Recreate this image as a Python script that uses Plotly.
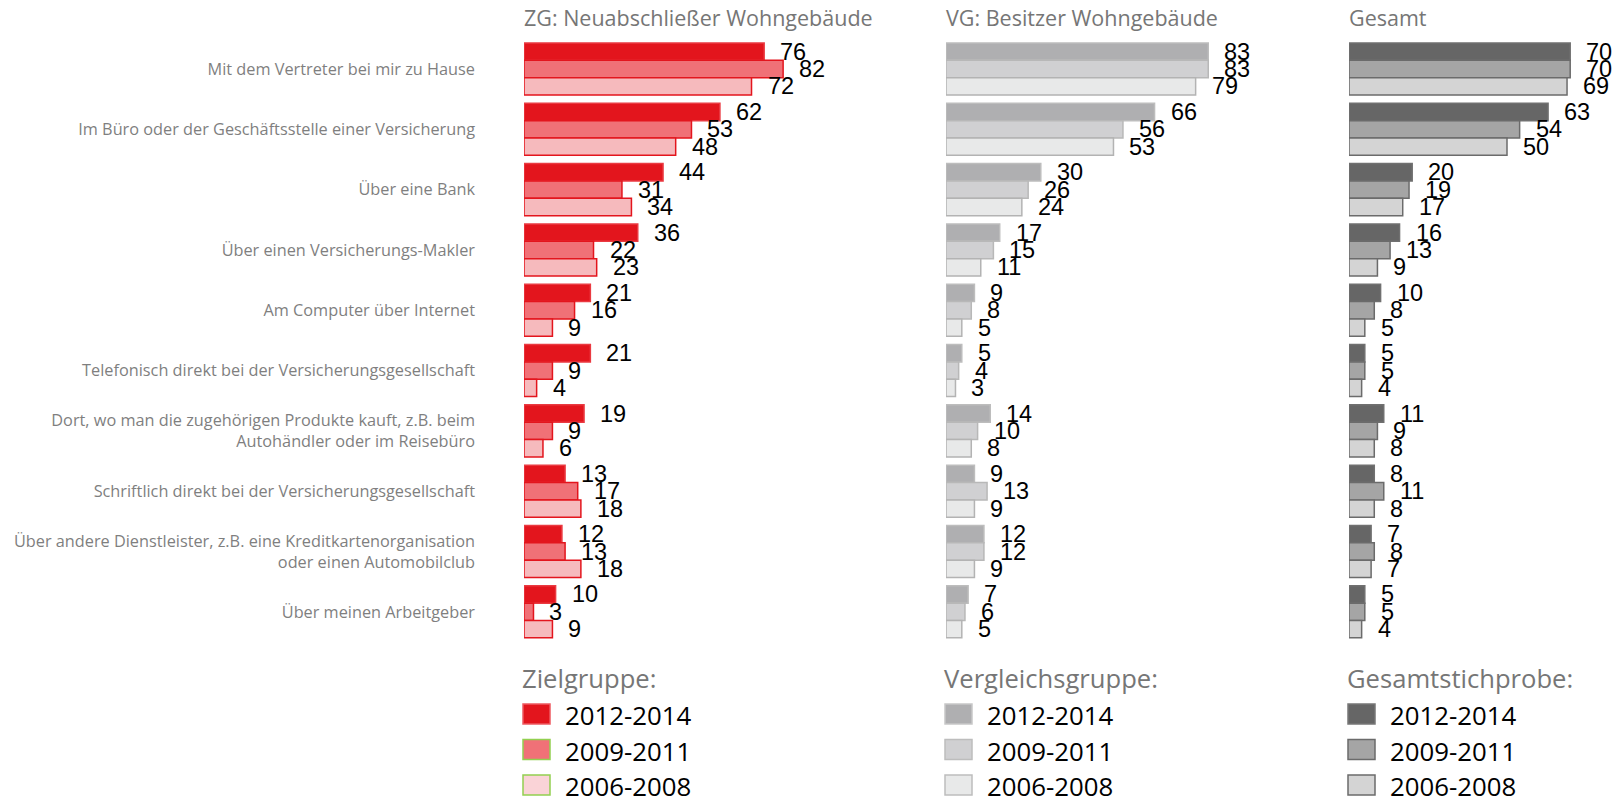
import plotly.graph_objects as go

W, H = 1622, 798

categories = [
    "Mit dem Vertreter bei mir zu Hause",
    "Im Büro oder der Geschäftsstelle einer Versicherung",
    "Über eine Bank",
    "Über einen Versicherungs-Makler",
    "Am Computer über Internet",
    "Telefonisch direkt bei der Versicherungsgesellschaft",
    "Dort, wo man die zugehörigen Produkte kauft, z.B. beim<br>Autohändler oder im Reisebüro",
    "Schriftlich direkt bei der Versicherungsgesellschaft",
    "Über andere Dienstleister, z.B. eine Kreditkartenorganisation<br>oder einen Automobilclub",
    "Über meinen Arbeitgeber",
]
periods = ["2012-2014", "2009-2011", "2006-2008"]

panel_titles = ["ZG: Neuabschließer Wohngebäude", "VG: Besitzer Wohngebäude", "Gesamt"]
legend_titles = ["Zielgruppe:", "Vergleichsgruppe:", "Gesamtstichprobe:"]

zg_2012 = [76, 62, 44, 36, 21, 21, 19, 13, 12, 10]
zg_2009 = [82, 53, 31, 22, 16, 9, 9, 17, 13, 3]
zg_2006 = [72, 48, 34, 23, 9, 4, 6, 18, 18, 9]

vg_2012 = [83, 66, 30, 17, 9, 5, 14, 9, 12, 7]
vg_2009 = [83, 56, 26, 15, 8, 4, 10, 13, 12, 6]
vg_2006 = [79, 53, 24, 11, 5, 3, 8, 9, 9, 5]

ges_2012 = [70, 63, 20, 16, 10, 5, 11, 8, 7, 5]
ges_2009 = [70, 54, 19, 13, 8, 5, 9, 11, 8, 5]
ges_2006 = [69, 50, 17, 9, 5, 4, 8, 8, 7, 4]

panels = [
    [zg_2012, zg_2009, zg_2006],
    [vg_2012, vg_2009, vg_2006],
    [ges_2012, ges_2009, ges_2006],
]

# styles
bar_fill = [
    ["#E3151D", "#F07177", "#F6BABD"],
    ["#AFAFB1", "#D0D0D2", "#E8E9E9"],
    ["#666666", "#A5A5A5", "#D4D4D4"],
]
bar_line = [
    ["#EA3A41", "#E3151D", "#E3151D"],
    ["#BDBDBD", "#B8B8B8", "#B3B3B3"],
    ["#707070", "#6B6B6B", "#6B6B6B"],
]
leg_fill = [
    ["#E3151D", "#F07177", "#FAD3D7"],
    ["#AFAFB1", "#D0D0D2", "#E8E9E9"],
    ["#666666", "#A5A5A5", "#D4D4D4"],
]
leg_line = [
    ["#EE5A60", "#92D050", "#92D050"],
    ["#C8C8C8", "#BDBDBD", "#BDBDBD"],
    ["#777777", "#6B6B6B", "#6B6B6B"],
]

SCALE = 3.16  # px per percentage point
panel_px = [(524, 900), (946, 1300), (1349, 1622)]
y_top, y_bot = 38.85, 642.0
bargap = 0.137
barw = (1 - bargap) / 3

def px(x):
    return x / W

def py(y):
    return 1 - y / H

fig = go.Figure()
annotations = []
shapes = []

for p, series in enumerate(panels):
    xa = "x" if p == 0 else f"x{p+1}"
    ya = "y" if p == 0 else f"y{p+1}"
    for k, vals in enumerate(series):
        fig.add_trace(go.Bar(
            x=vals, y=list(range(len(categories))), orientation="h",
            name=periods[k], xaxis=xa, yaxis=ya, showlegend=False,
            marker=dict(color=bar_fill[p][k], line=dict(color=bar_line[p][k], width=1.5)),
            hoverinfo="x",
        ))
        for i, v in enumerate(vals):
            annotations.append(dict(
                x=v, y=i + (k - 1) * barw, xref=xa, yref=ya, text=str(v),
                showarrow=False, xanchor="left", yanchor="middle", xshift=14,
                font=dict(family="Liberation Sans, Arial", size=23.5, color="#000000"),
            ))
    # panel title
    annotations.append(dict(
        x=px(panel_px[p][0] - 2), y=py(18), xref="paper", yref="paper",
        text=panel_titles[p], showarrow=False, xanchor="left", yanchor="middle",
        font=dict(family="Open Sans", size=21.5, color="#767676"),
    ))
    # legend
    lx = panel_px[p][0] - 1
    annotations.append(dict(
        x=px(lx - 3), y=py(678), xref="paper", yref="paper",
        text=legend_titles[p], showarrow=False, xanchor="left", yanchor="middle",
        font=dict(family="Open Sans", size=25.6, color="#767676"),
    ))
    for k in range(3):
        cy = 714 + k * 35.5
        shapes.append(dict(
            type="rect", xref="paper", yref="paper",
            x0=px(lx), x1=px(lx + 27), y0=py(cy - 10), y1=py(cy + 10),
            fillcolor=leg_fill[p][k], line=dict(color=leg_line[p][k], width=1.5),
        ))
        annotations.append(dict(
            x=px(lx + 40), y=py(cy + 1), xref="paper", yref="paper",
            text=periods[k], showarrow=False, xanchor="left", yanchor="middle",
            font=dict(family="Open Sans", size=25.8, color="#000000"),
        ))

layout_axes = {}
for p in range(3):
    x0, x1 = panel_px[p]
    xkey = "xaxis" if p == 0 else f"xaxis{p+1}"
    ykey = "yaxis" if p == 0 else f"yaxis{p+1}"
    layout_axes[xkey] = dict(
        domain=[px(x0), px(x1)], range=[0, (x1 - x0) / SCALE],
        showgrid=False, zeroline=False, showline=False, showticklabels=False,
        anchor="y" if p == 0 else f"y{p+1}", fixedrange=True,
    )
    layout_axes[ykey] = dict(
        domain=[py(y_bot), py(y_top)], range=[len(categories) - 0.5, -0.5],
        anchor="x" if p == 0 else f"x{p+1}",
        showgrid=False, zeroline=False, showline=False,
        tickmode="array", tickvals=list(range(len(categories))),
        ticktext=categories if p == 0 else [""] * len(categories),
        showticklabels=(p == 0), ticks="", ticklabelstandoff=48,
        tickfont=dict(family="Open Sans", size=16.3, color="#7F7F7F"),
        fixedrange=True,
    )

fig.update_layout(
    width=W, height=H,
    margin=dict(l=0, r=0, t=0, b=0),
    paper_bgcolor="white", plot_bgcolor="white",
    barmode="group", bargap=bargap, bargroupgap=0,
    annotations=annotations, shapes=shapes,
    showlegend=False,
    **layout_axes,
)

fig.write_html(
    "out.html",
    config={"displayModeBar": False},
    post_script="document.body.style.margin='0';document.body.style.overflow='hidden';",
)
